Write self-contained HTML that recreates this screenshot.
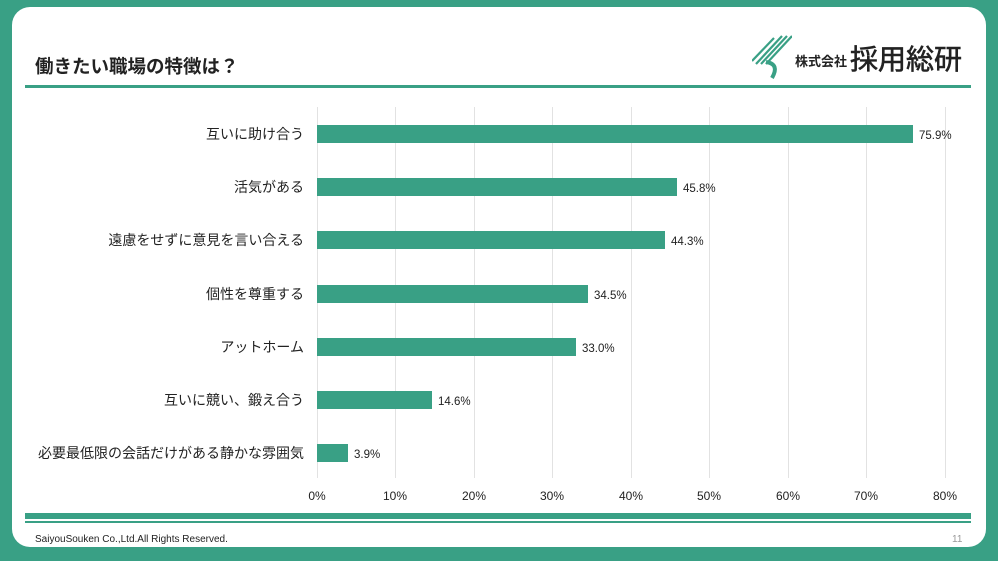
<!DOCTYPE html>
<html><head><meta charset="utf-8">
<style>
*{margin:0;padding:0;box-sizing:border-box}
body{width:998px;height:561px;background:#39a085;position:relative;overflow:hidden;font-family:"Liberation Sans","Noto Sans CJK JP",sans-serif;color:#222}
.card{position:absolute;left:12px;top:7px;width:974px;height:540px;background:#fff;border-radius:18px}
.t{position:absolute;left:35px;top:53px;font-size:18.5px;font-weight:bold;white-space:nowrap}
.hl{position:absolute;left:25px;top:85px;width:946px;height:3px;background:#39a085}
.grid{position:absolute;top:107px;height:371px;width:1px;background:#e2e2e2}
.bar{position:absolute;left:317px;height:18px;background:#39a085}
.lab{position:absolute;right:694px;font-size:14px;white-space:nowrap}
.val{position:absolute;font-size:11.5px;white-space:nowrap}
.tick{position:absolute;top:489px;font-size:12px;transform:translateX(-50%)}
.f1{position:absolute;left:25px;top:513px;width:946px;height:6px;background:#39a085}
.f2{position:absolute;left:25px;top:521px;width:946px;height:2px;background:#39a085}
.fc{position:absolute;left:35px;top:534px;font-size:10px}
.pg{position:absolute;left:952px;top:534px;font-size:10px;color:#999}
</style></head><body>
<div class="card"></div>
<div class="t">働きたい職場の特徴は？</div>
<svg style="position:absolute;left:752px;top:34px" width="40" height="46" viewBox="0 0 40 46">
<g stroke="#39a085" stroke-width="2.2"><line x1="4" y1="30" x2="30" y2="2"/><line x1="9" y1="30" x2="35" y2="2"/><line x1="14" y1="30" x2="40" y2="2"/><line x1="0" y1="27" x2="22" y2="4"/></g>
<path d="M14 28 Q28 30 20 44" stroke="#39a085" stroke-width="4" fill="none"/></svg>
<div style="position:absolute;left:795px;top:51px;font-size:13px;font-weight:bold;white-space:nowrap">株式会社</div>
<div style="position:absolute;left:850px;top:38px;font-size:28px;white-space:nowrap;-webkit-text-stroke:0.6px #222">採用総研</div>
<div class="hl"></div>
<div class="grid" style="left:317px"></div><div class="grid" style="left:395px"></div><div class="grid" style="left:474px"></div><div class="grid" style="left:552px"></div><div class="grid" style="left:631px"></div><div class="grid" style="left:709px"></div><div class="grid" style="left:788px"></div><div class="grid" style="left:866px"></div><div class="grid" style="left:945px"></div>
<div class="bar" style="top:125px;width:596px"></div><div class="lab" style="top:124px">互いに助け合う</div><div class="val" style="top:130px;left:919px">75.9%</div>
<div class="bar" style="top:178px;width:360px"></div><div class="lab" style="top:177px">活気がある</div><div class="val" style="top:183px;left:683px">45.8%</div>
<div class="bar" style="top:231px;width:348px"></div><div class="lab" style="top:230px">遠慮をせずに意見を言い合える</div><div class="val" style="top:236px;left:671px">44.3%</div>
<div class="bar" style="top:285px;width:271px"></div><div class="lab" style="top:284px">個性を尊重する</div><div class="val" style="top:290px;left:594px">34.5%</div>
<div class="bar" style="top:338px;width:259px"></div><div class="lab" style="top:337px">アットホーム</div><div class="val" style="top:343px;left:582px">33.0%</div>
<div class="bar" style="top:391px;width:115px"></div><div class="lab" style="top:390px">互いに競い、鍛え合う</div><div class="val" style="top:396px;left:438px">14.6%</div>
<div class="bar" style="top:444px;width:31px"></div><div class="lab" style="top:443px">必要最低限の会話だけがある静かな雰囲気</div><div class="val" style="top:449px;left:354px">3.9%</div>
<div class="tick" style="left:317px">0%</div><div class="tick" style="left:395px">10%</div><div class="tick" style="left:474px">20%</div><div class="tick" style="left:552px">30%</div><div class="tick" style="left:631px">40%</div><div class="tick" style="left:709px">50%</div><div class="tick" style="left:788px">60%</div><div class="tick" style="left:866px">70%</div><div class="tick" style="left:945px">80%</div>
<div class="f1"></div><div class="f2"></div>
<div class="fc">SaiyouSouken Co.,Ltd.All Rights Reserved.</div>
<div class="pg">11</div>
</body></html>
